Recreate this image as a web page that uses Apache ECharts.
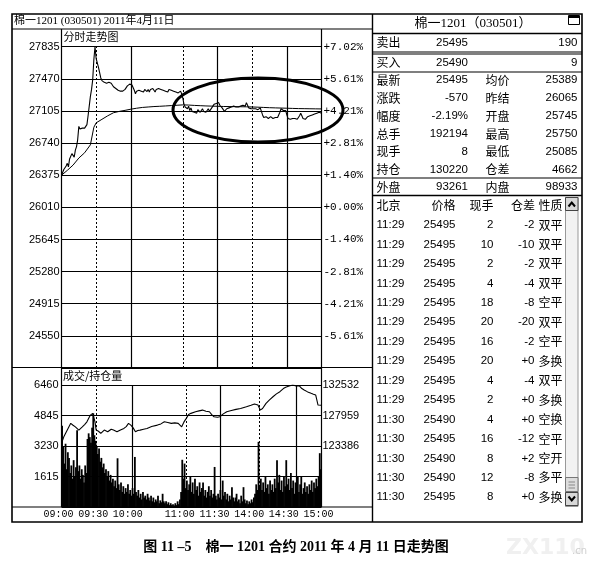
<!DOCTYPE html>
<html><head><meta charset="utf-8">
<script src="https://cdn.jsdelivr.net/npm/echarts@6/dist/echarts.min.js"></script>
<style>html,body{margin:0;padding:0;background:#fff}#c{width:613px;height:567px}</style>
</head><body><div id="c"></div>
<script>
// ---------- data ----------
const timeTicks = [0, 30, 60, 105, 135, 165, 195, 225];
const timeLabels = ['09:00', '09:30', '10:00', '11:00', '11:30', '14:00', '14:30', '15:00'];
const prevSettle = 26010;
const priceMin = 24185, priceMax = 27835, priceStep = 365;
const volMax = 6460, volStep = 1615;
const oiMin = 114240, oiMax = 132532, oiStep = 4573;

const price = [
26375,26390,26440,26420,26480,26510,26470,26560,26540,26620,
26600,26580,26660,26700,26780,26930,26900,26880,26910,26890,
26910,26930,26950,27050,27160,27270,27350,27460,27690,27835,
27700,27680,27600,27540,27480,27450,27440,27430,27410,27420,
27410,27430,27440,27420,27400,27380,27370,27360,27350,27340,
27345,27330,27325,27330,27320,27350,27370,27390,27400,27410,
27420,27400,27420,27340,27300,27330,27310,27340,27350,27330,
27340,27320,27350,27330,27325,27350,27320,27350,27330,27360,
27340,27320,27350,27330,27360,27340,27350,27330,27340,27360,
27330,27340,27320,27350,27330,27340,27320,27330,27340,27320,
27330,27310,27320,27330,27300,27250,27180,27150,27170,27130,
27160,27110,27140,27100,27120,27090,27110,27080,27120,27100,
27090,27110,27130,27100,27120,27090,27110,27130,27100,27120,
27140,27160,27180,27200,27190,27180,27200,27170,27160,27140,
27120,27100,27110,27130,27120,27140,27130,27150,27140,27160,
27140,27150,27130,27150,27140,27160,27150,27170,27150,27160,
27200,27170,27140,27150,27130,27140,27130,27150,27130,27140,
27120,27130,27140,27120,27060,27030,27020,27040,27030,27020,
27030,27040,27030,27020,27040,27030,27050,27030,27040,27090,
27130,27120,27110,27130,27110,27060,27020,27030,27010,27030,
27020,27040,27020,27030,27010,27030,27050,27080,27050,27020,
27030,27010,27030,27040,27020,27050,27040,27060,27050,27070,
27060,27080,27070,27090,27070,27080
];

const avgMinutes = [0,5,10,15,20,25,28,30,35,40,45,50,55,60,65,70,75,80,85,90,95,100,105,110,115,120,125,130,135,140,145,150,155,160,165,170,175,180,185,190,195,200,205,210,215,220,225];
const avgPrice = [26375,26430,26490,26570,26630,26720,26920,26970,27010,27050,27085,27100,27112,27125,27136,27145,27150,27155,27158,27162,27166,27170,27174,27172,27168,27165,27162,27160,27158,27156,27155,27154,27153,27152,27150,27148,27145,27142,27140,27138,27136,27134,27132,27131,27130,27129,27128];

const volume = [
4300,3200,2300,3350,2000,2900,2600,1800,2200,1500,2480,1600,2100,4070,1900,
2200,1500,2000,1700,1300,2200,1800,3600,3900,3700,3400,4200,4960,3800,3500,
3200,2800,3100,2400,2600,2100,2300,1800,2000,1600,1900,1400,1700,1300,1500,
1100,1400,1000,2580,1200,900,1300,800,1100,700,1000,800,1200,700,900,
600,1000,700,2650,800,600,900,500,700,400,800,500,600,400,700,
500,350,600,300,500,250,400,300,600,200,350,250,700,300,200,
300,150,250,100,200,100,150,80,200,100,300,150,400,800,2500,
1500,2300,1000,1400,900,1200,1600,800,1300,700,1500,900,1100,600,1300,
800,1000,1300,600,900,500,800,1100,600,900,500,700,2120,600,400,
700,500,900,400,1400,600,800,400,700,300,600,400,1050,500,300,
500,700,300,400,200,600,300,1050,400,200,350,150,300,200,400,
250,500,700,1200,900,3450,1100,1500,900,1300,800,1600,1000,1200,700,
1400,900,1200,800,1500,1000,2480,1300,1700,900,1400,800,1600,1100,2480,
1200,1500,900,1800,1000,1400,700,1300,900,1600,800,1200,1590,700,1000,
1300,800,1100,700,1200,900,1400,800,1300,1000,1500,1100,1600,2850,2000
];

const oiMinutes = [0,2,5,8,10,12,15,18,20,22,25,27,28,29,30,32,34,37,40,43,45,48,51,54,56,58,60,62,64,66,68,71,74,78,83,86,89,92,95,98,101,104,106,108,110,112,116,119,122,125,128,130,132,135,137,140,143,147,151,155,160,164,167,170,172,174,177,180,183,186,189,192,194,197,200,203,206,208,210,213,216,218,220,222,223,225];
const oiValues = [123770,124760,125800,126780,126500,126260,125770,126260,126600,127010,128020,128280,128400,127000,125770,125600,125270,125770,125520,125900,125770,125520,125800,126020,126300,126780,126520,126100,125520,125700,125770,125900,126020,126300,126520,126700,127010,126900,126780,126850,126780,126260,127000,127530,128100,128280,128520,128650,128770,128600,128520,128100,127770,127700,127770,128200,128520,128700,128880,129000,129270,129500,129680,129530,128770,129000,129780,130300,130770,131200,131530,132000,132190,132380,132532,132400,132380,132000,131780,131500,131280,131150,131030,129530,129800,129500];

const priceSolidLines = [60, 135, 195];
const priceDashedLines = [30, 105, 165];
const volSolidLines = [61, 137, 203];
const volDashedLines = [30, 108, 171];

const chartTitle = '棉一1201 (030501) 2011年4月11日';
const priceTitle = '分时走势图';
const volTitle = '成交/持仓量';
const quoteTitle = '棉一1201（030501）';
const askRow = ['卖出', '25495', '190'];
const bidRow = ['买入', '25490', '9'];
const quoteRows = [
  ['最新', '25495', '均价', '25389'],
  ['涨跌', '-570', '昨结', '26065'],
  ['幅度', '-2.19%', '开盘', '25745'],
  ['总手', '192194', '最高', '25750'],
  ['现手', '8', '最低', '25085'],
  ['持仓', '130220', '仓差', '4662']
];
const outerRow = ['外盘', '93261', '内盘', '98933'];
const tradeHeader = ['北京', '价格', '现手', '仓差', '性质'];
const trades = [
  ['11:29', '25495', '2', '-2', '双平'],
  ['11:29', '25495', '10', '-10', '双平'],
  ['11:29', '25495', '2', '-2', '双平'],
  ['11:29', '25495', '4', '-4', '双平'],
  ['11:29', '25495', '18', '-8', '空平'],
  ['11:29', '25495', '20', '-20', '双平'],
  ['11:29', '25495', '16', '-2', '空平'],
  ['11:29', '25495', '20', '+0', '多换'],
  ['11:29', '25495', '4', '-4', '双平'],
  ['11:29', '25495', '2', '+0', '多换'],
  ['11:30', '25490', '4', '+0', '空换'],
  ['11:30', '25495', '16', '-12', '空平'],
  ['11:30', '25490', '8', '+2', '空开'],
  ['11:30', '25490', '12', '-8', '多平'],
  ['11:30', '25495', '8', '+0', '多换']
];
const caption = '图 11 –5　棉一 1201 合约 2011 年 4 月 11 日走势图';

// ---------- helpers ----------
const SANS = '"Liberation Sans", Arial, sans-serif';
const MONO = '"Liberation Mono", "DejaVu Sans Mono", monospace';
const CJK = '"Noto Sans CJK SC", sans-serif';
const SERIF = '"Liberation Serif", "Noto Sans CJK SC", serif';
const G = [];
function T(text, x, y, align, font, fill) {
  G.push({type: 'text', x: x, y: y, silent: true, z: 110,
    style: {text: text, font: font, fill: fill || '#000',
      textAlign: align, align: align, textVerticalAlign: 'middle', verticalAlign: 'middle'}});
}
function L(x1, y1, x2, y2, w, color) {
  G.push({type: 'line', silent: true, z: 105, shape: {x1: x1, y1: y1, x2: x2, y2: y2},
    style: {stroke: color || '#000', lineWidth: w || 1}});
}
function R(x, y, w, h, fill, stroke, lw) {
  G.push({type: 'rect', silent: true, z: 104, shape: {x: x, y: y, width: w, height: h},
    style: {fill: fill || 'none', stroke: stroke || '#000', lineWidth: lw || 1}});
}
function P(points, w) {
  G.push({type: 'polyline', silent: true, z: 106, shape: {points: points},
    style: {stroke: '#000', lineWidth: w || 1, fill: 'none'}});
}

// frame
R(12, 14, 570, 508, 'none', '#000', 1.6);
L(372.5, 14, 372.5, 522, 1.4);
L(12, 29, 372.5, 29, 1.2);
L(12, 367.5, 372.5, 367.5, 1.2);
L(12, 507, 372.5, 507, 1.2);
L(61.5, 29, 61.5, 507, 1.2);
L(321.5, 29, 321.5, 507, 1.2);
T(chartTitle, 14, 21.5, 'left', '11px ' + SERIF);
T(priceTitle, 63.5, 37, 'left', '11px ' + CJK);
T(volTitle, 63, 376, 'left', '11px ' + CJK);

// quote panel
const QF = '11.5px ' + SANS, QC = '12px ' + CJK;
T(quoteTitle, 473, 24, 'center', '13px ' + SERIF);
R(568.5, 15.5, 11, 9, '#fff', '#000', 1);
L(568.5, 17, 579.5, 17, 2);
L(372.5, 33.5, 582, 33.5, 1.5);
T(askRow[0], 376.5, 42.5, 'left', QC); T(askRow[1], 468, 42.5, 'right', QF); T(askRow[2], 577.5, 42.5, 'right', QF);
L(372.5, 52, 582, 52, 1.2);
L(372.5, 54, 582, 54, 1.2);
T(bidRow[0], 376.5, 62.5, 'left', QC); T(bidRow[1], 468, 62.5, 'right', QF); T(bidRow[2], 577.5, 62.5, 'right', QF);
L(372.5, 72, 582, 72, 1.2);
const qy = [80, 98, 116, 134, 151.5, 169.5];
quoteRows.forEach((r, i) => {
  T(r[0], 376.5, qy[i], 'left', QC); T(r[1], 468, qy[i], 'right', QF);
  T(r[2], 485.5, qy[i], 'left', QC); T(r[3], 577.5, qy[i], 'right', QF);
});
L(372.5, 178, 582, 178, 1.2);
T(outerRow[0], 376.5, 187, 'left', QC); T(outerRow[1], 468, 187, 'right', QF);
T(outerRow[2], 485.5, 187, 'left', QC); T(outerRow[3], 577.5, 187, 'right', QF);
L(372.5, 195.5, 582, 195.5, 1.5);

// trade list
T(tradeHeader[0], 376.5, 205, 'left', QC);
T(tradeHeader[1], 455.5, 205, 'right', QC);
T(tradeHeader[2], 493.5, 205, 'right', QC);
T(tradeHeader[3], 535, 205, 'right', QC);
T(tradeHeader[4], 538.5, 205, 'left', QC);
trades.forEach((r, i) => {
  const y = 225 + i * 19.45;
  T(r[0], 376.5, y, 'left', QF);
  T(r[1], 455.5, y, 'right', QF);
  T(r[2], 493.5, y, 'right', QF);
  T(r[3], 534.5, y, 'right', QF);
  T(r[4], 538.5, y, 'left', QC);
});
// scrollbar
R(565.5, 197.5, 12.5, 309, '#f2f2f2', '#999', 1);
R(565.5, 197.5, 12.5, 13, '#d8d8d8', '#444', 1);
P([[568.5, 206.5], [571.75, 202.5], [575, 206.5]], 2);
R(565.5, 477.5, 12.5, 14, '#dcdcdc', '#777', 1);
L(568.5, 482, 575, 482, 1, '#888'); L(568.5, 485, 575, 485, 1, '#888'); L(568.5, 488, 575, 488, 1, '#888');
R(565.5, 492.5, 12.5, 13, '#d8d8d8', '#444', 1);
P([[568.5, 496.5], [571.75, 500.5], [575, 496.5]], 2);

// annotation ellipse
G.push({type: 'ellipse', silent: true, z: 120, shape: {cx: 258, cy: 110, rx: 85, ry: 32},
  style: {fill: 'none', stroke: '#000', lineWidth: 3}});

// caption + watermark
T(caption, 296, 547, 'center', 'bold 14px ' + SERIF);
T('ZX110', 506, 548, 'left', 'bold 22px "DejaVu Sans", sans-serif', '#f0f0f0');
T('.cn', 572, 551, 'left', '10px "DejaVu Sans", sans-serif', '#d0d0d0');

// ---------- chart ----------
function vLines(solid, dashed) {
  return {
    silent: true, symbol: ['none', 'none'], label: {show: false}, animation: false,
    data: solid.map(m => ({xAxis: m, lineStyle: {type: 'solid', width: 1.2, color: '#000'}}))
      .concat(dashed.map(m => ({xAxis: m, lineStyle: {type: [2, 2], width: 1, color: '#000'}})))
  };
}
const pct = v => {
  const p = (v - prevSettle) / prevSettle * 100;
  return (p >= 0 ? '+' : '-') + Math.abs(p).toFixed(2) + '%';
};
const plain = v => String(v);

const chart = echarts.init(document.getElementById('c'), null, {renderer: 'canvas', width: 613, height: 567});
chart.setOption({
  animation: false,
  backgroundColor: '#fff',
  grid: [
    {left: 61.5, top: 46.7, width: 260, height: 321.3},
    {left: 61.5, top: 385, width: 260, height: 122}
  ],
  xAxis: [
    {gridIndex: 0, type: 'value', min: 0, max: 225, show: false},
    {gridIndex: 1, type: 'value', min: 0, max: 225, interval: 15,
      axisLine: {show: false}, axisTick: {show: false}, splitLine: {show: false},
      axisLabel: {margin: 2, color: '#000', fontSize: 10, fontFamily: MONO, padding: [0, 6, 0, 0],
        showMinLabel: true, showMaxLabel: true, hideOverlap: false,
        formatter: v => { const k = timeTicks.indexOf(v); return k >= 0 ? timeLabels[k] : ''; }}}
  ],
  yAxis: [
    {gridIndex: 0, type: 'value', min: priceMin, max: priceMax, interval: priceStep, position: 'left',
      axisLine: {show: false}, axisTick: {show: false},
      splitLine: {lineStyle: {color: '#000', width: 1.1}},
      axisLabel: {margin: 2, color: '#000', fontSize: 11, fontFamily: SANS, showMinLabel: false, formatter: plain}},
    {gridIndex: 0, type: 'value', min: priceMin, max: priceMax, interval: priceStep, position: 'right',
      axisLine: {show: false}, axisTick: {show: false}, splitLine: {show: false},
      axisLabel: {margin: 2, color: '#000', fontSize: 11, fontFamily: MONO, showMinLabel: false, formatter: pct}},
    {gridIndex: 1, type: 'value', min: 0, max: volMax, interval: volStep, position: 'left',
      axisLine: {show: false}, axisTick: {show: false},
      splitLine: {lineStyle: {color: '#000', width: 1.1}},
      axisLabel: {margin: 3, color: '#000', fontSize: 11, fontFamily: SANS, showMinLabel: false, formatter: plain}},
    {gridIndex: 1, type: 'value', min: oiMin, max: oiMax, interval: oiStep, position: 'right',
      axisLine: {show: false}, axisTick: {show: false}, splitLine: {show: false},
      axisLabel: {margin: 1, color: '#000', fontSize: 11, fontFamily: SANS, showMinLabel: false,
        formatter: v => v >= oiMin + 2 * oiStep ? String(v) : ''}}
  ],
  series: [
    {type: 'line', xAxisIndex: 0, yAxisIndex: 0, symbol: 'none', silent: true,
      data: price.map((v, i) => [i, v]), lineStyle: {color: '#000', width: 1.1}},
    {type: 'line', xAxisIndex: 0, yAxisIndex: 0, symbol: 'none', silent: true,
      data: avgMinutes.map((m, i) => [m, avgPrice[i]]), lineStyle: {color: '#000', width: 1},
      markLine: vLines(priceSolidLines, priceDashedLines)},
    {type: 'bar', xAxisIndex: 1, yAxisIndex: 2, silent: true, barWidth: 1.8,
      data: volume.map((v, i) => [i + 0.5, v]), itemStyle: {color: '#000'},
      markLine: vLines(volSolidLines, volDashedLines)},
    {type: 'line', xAxisIndex: 1, yAxisIndex: 3, symbol: 'none', silent: true,
      data: oiMinutes.map((m, i) => [m, oiValues[i]]), lineStyle: {color: '#000', width: 1.1}}
  ],
  graphic: {elements: G}
});
</script></body></html>
